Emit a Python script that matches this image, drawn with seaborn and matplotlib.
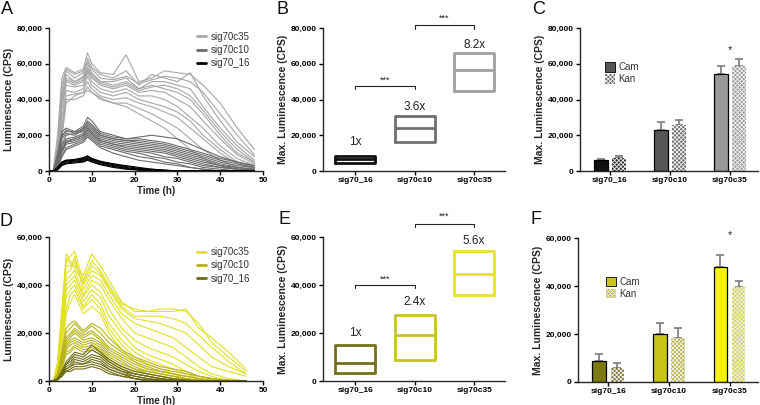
import pandas as pd
import matplotlib
matplotlib.use("Agg")
import matplotlib.pyplot as plt
from matplotlib.ticker import FuncFormatter
from matplotlib.patches import Patch
from matplotlib.lines import Line2D
import seaborn as sns

# ---------------- data (luminescence in thousands of CPS) ----------------
strains = ["sig70_16", "sig70c10", "sig70c35"]
drugs = ["Cam", "Kan"]

# panel A time courses
time_a = [0, 1, 2, 3, 4, 6, 8, 9, 10, 12, 15, 18, 21, 24, 27, 30, 33, 36, 40, 44, 48]
a_c35 = [
    [0, 0, 20, 52, 58, 55, 57, 66, 60, 55, 54, 65, 50, 52, 56, 55, 54, 48, 38, 24, 12],
    [0, 0, 15, 45, 56, 52, 55, 63, 58, 54, 52, 56, 48, 54, 52, 50, 55, 42, 28, 16, 8],
    [0, 0, 14, 48, 57, 54, 56, 61, 57, 52, 51, 53, 49, 51, 53, 52, 50, 44, 32, 20, 9],
    [0, 0, 10, 40, 54, 50, 53, 60, 55, 50, 50, 52, 46, 50, 50, 48, 46, 36, 24, 14, 6],
    [0, 0, 12, 42, 52, 50, 52, 58, 54, 50, 48, 50, 46, 48, 46, 44, 40, 32, 20, 10, 5],
    [0, 0, 9, 36, 51, 49, 51, 57, 53, 49, 47, 49, 45, 47, 48, 46, 42, 34, 22, 12, 5],
    [0, 0, 8, 38, 50, 48, 50, 56, 52, 48, 46, 48, 44, 45, 44, 40, 36, 28, 18, 9, 4],
    [0, 0, 10, 35, 48, 47, 48, 55, 50, 46, 44, 46, 42, 42, 40, 36, 30, 24, 14, 7, 3],
    [0, 0, 6, 30, 45, 44, 46, 53, 48, 44, 42, 44, 40, 38, 36, 33, 28, 20, 12, 5, 2],
    [0, 0, 5, 25, 42, 43, 44, 50, 46, 42, 40, 41, 38, 36, 33, 30, 24, 18, 10, 4, 1],
    [0, 0, 4, 22, 40, 40, 42, 47, 44, 40, 38, 38, 35, 32, 28, 24, 18, 12, 6, 2, 0],
    [0, 0, 3, 18, 38, 42, 44, 45, 44, 41, 38, 36, 32, 28, 24, 18, 12, 7, 3, 1, 0],
]
a_c10 = [
    [0, 0, 8, 20, 22, 22, 25, 30, 28, 22, 20, 18, 18, 17, 16, 14, 12, 10, 7, 5, 3],
    [0, 0, 6, 18, 21, 20, 23, 28, 26, 21, 19, 18, 19, 20, 19, 18, 15, 12, 8, 5, 3],
    [0, 0, 7, 19, 23, 21, 24, 27, 25, 20, 18, 17, 17, 16, 15, 13, 11, 9, 6, 4, 2],
    [0, 0, 5, 15, 20, 21, 22, 26, 24, 20, 18, 17, 16, 15, 14, 12, 10, 8, 5, 3, 2],
    [0, 0, 10, 22, 24, 22, 23, 25, 23, 19, 17, 16, 15, 14, 13, 11, 9, 7, 4, 2, 1],
    [0, 0, 4, 14, 18, 19, 21, 24, 22, 18, 16, 15, 14, 13, 12, 10, 8, 6, 3, 2, 1],
    [0, 0, 3, 11, 16, 18, 20, 24, 21, 17, 15, 14, 13, 12, 11, 9, 7, 5, 3, 1, 1],
    [0, 0, 4, 12, 17, 18, 20, 23, 21, 17, 15, 13, 12, 11, 10, 8, 6, 4, 2, 1, 0],
    [0, 0, 3, 12, 16, 17, 19, 22, 20, 16, 14, 12, 11, 10, 8, 7, 5, 3, 2, 1, 0],
    [0, 0, 3, 10, 15, 16, 18, 21, 19, 15, 13, 11, 10, 8, 7, 5, 4, 2, 1, 0, 0],
    [0, 0, 2, 8, 13, 15, 17, 20, 18, 14, 12, 10, 8, 7, 5, 4, 2, 1, 0, 0, 0],
    [0, 0, 2, 8, 12, 14, 16, 19, 17, 13, 10, 8, 6, 5, 4, 3, 2, 1, 0, 0, 0],
]
a_16 = [
    [0, 0, 2, 5, 6, 6, 7, 8, 7, 5, 4, 2.5, 1.5, 1, 0.5, 0, 0, 0, 0, 0, 0],
    [0, 0, 2, 5, 6, 6.5, 7.5, 8.5, 7, 5.5, 4, 3, 2, 1, 0.5, 0, 0, 0, 0, 0, 0],
    [0, 0, 1.5, 4.5, 5.5, 6, 6.5, 7.5, 6.5, 5, 3.5, 2, 1, 0.5, 0, 0, 0, 0, 0, 0, 0],
    [0, 0, 1, 4, 5, 5.5, 6, 7, 6, 4.5, 3, 1.5, 1, 0.5, 0, 0, 0, 0, 0, 0, 0],
    [0, 0, 1, 3.5, 4.5, 5, 5.5, 6.5, 5.5, 4, 2.5, 1.5, 0.5, 0, 0, 0, 0, 0, 0, 0, 0],
    [0, 0, 0.5, 3, 4, 4.5, 5, 6, 5, 3.5, 2, 1, 0.5, 0, 0, 0, 0, 0, 0, 0, 0],
]

# panel D time courses
time_d = [0, 1, 2, 3, 4, 5, 6, 8, 10, 12, 14, 17, 20, 23, 26, 29, 32, 35, 38, 42, 46]
d_c35 = [
    [0, 0, 8, 30, 50, 52, 54, 42, 50, 46, 40, 32, 30, 29, 29, 29, 30, 22, 18, 12, 5],
    [0, 0, 6, 28, 53, 50, 48, 44, 53, 48, 42, 33, 29, 29, 30, 30, 29, 24, 16, 10, 4],
    [0, 0, 7, 27, 51, 49, 47, 41, 48, 45, 39, 31, 27, 27, 27, 26, 24, 19, 14, 8, 3],
    [0, 0, 5, 25, 48, 48, 50, 40, 46, 44, 38, 30, 26, 25, 24, 22, 20, 15, 10, 6, 3],
    [0, 0, 5, 22, 45, 46, 52, 38, 44, 42, 36, 28, 24, 22, 20, 18, 14, 10, 6, 4, 2],
    [0, 0, 4, 20, 42, 44, 46, 36, 42, 40, 34, 26, 20, 18, 16, 14, 10, 6, 3, 1, 0],
    [0, 0, 4, 18, 40, 42, 44, 35, 40, 37, 30, 22, 17, 14, 12, 10, 7, 4, 2, 0, 0],
    [0, 0, 3, 16, 38, 40, 42, 33, 38, 35, 27, 20, 14, 11, 9, 7, 4, 2, 1, 0, 0],
    [0, 0, 3, 14, 35, 38, 40, 31, 36, 32, 24, 17, 12, 9, 7, 5, 3, 1, 0, 0, 0],
    [0, 0, 2, 12, 30, 36, 38, 30, 34, 30, 22, 15, 10, 7, 5, 3, 1, 0, 0, 0, 0],
    [0, 0, 2, 10, 28, 33, 36, 28, 31, 28, 20, 13, 8, 5, 3, 2, 1, 0, 0, 0, 0],
]
d_c10 = [
    [0, 0, 3, 12, 22, 24, 25, 21, 24, 22, 18, 13, 10, 8, 6, 5, 4, 2, 1, 0.5, 0],
    [0, 0, 3, 11, 20, 22, 24, 20, 23, 20, 16, 12, 9, 7, 5, 4, 3, 2, 1, 0, 0],
    [0, 0, 2, 10, 18, 20, 22, 19, 21, 18, 14, 11, 8, 6, 4, 3, 2, 1, 0.5, 0, 0],
    [0, 0, 2, 9, 17, 19, 21, 18, 20, 17, 13, 10, 7, 5, 4, 3, 2, 1, 0, 0, 0],
    [0, 0, 2, 8, 16, 18, 20, 17, 18, 16, 12, 9, 6, 4, 3, 2, 1, 0.5, 0, 0, 0],
    [0, 0, 2, 8, 15, 17, 18, 16, 17, 15, 11, 8, 5, 4, 3, 2, 1, 0, 0, 0, 0],
    [0, 0, 1, 7, 14, 16, 17, 15, 16, 14, 10, 7, 5, 3, 2, 1, 0.5, 0, 0, 0, 0],
    [0, 0, 1, 6, 13, 15, 16, 14, 15, 13, 9, 6, 4, 3, 2, 1, 0, 0, 0, 0, 0],
    [0, 0, 1, 5, 12, 13, 15, 13, 14, 12, 8, 5, 3, 2, 1, 0.5, 0, 0, 0, 0, 0],
    [0, 0, 1, 5, 11, 12, 14, 12, 13, 11, 8, 5, 3, 2, 1, 0, 0, 0, 0, 0, 0],
]
d_16 = [
    [0, 0, 1, 4, 8, 10, 12, 11, 15, 12, 9, 6, 4, 3, 2, 1, 0.5, 0, 0, 0, 0],
    [0, 0, 1, 4, 7, 9, 11, 10, 13, 11, 8, 5, 3, 2, 1, 0.5, 0, 0, 0, 0, 0],
    [0, 0, 1, 3, 7, 8, 10, 9, 11, 10, 7, 4, 3, 2, 1, 0, 0, 0, 0, 0, 0],
    [0, 0, 1, 3, 6, 7, 9, 8, 10, 9, 6, 4, 2, 1, 0.5, 0, 0, 0, 0, 0, 0],
    [0, 0, 0.5, 3, 5, 6, 8, 7, 9, 8, 5, 3, 2, 1, 0, 0, 0, 0, 0, 0, 0],
    [0, 0, 0.5, 2, 5, 6, 7, 7, 8, 7, 5, 3, 1, 0.5, 0, 0, 0, 0, 0, 0, 0],
    [0, 0, 0.5, 2, 4, 5, 6, 6, 7, 6, 4, 2, 1, 0, 0, 0, 0, 0, 0, 0, 0],
    [0, 0, 0.5, 2, 4, 4, 5, 5, 6, 5, 3, 2, 1, 0, 0, 0, 0, 0, 0, 0, 0],
]

# panels B / E: floating boxes (min, median, max of max. luminescence)
b_low = [4.7, 16.3, 45.0]
b_med = [6.7, 23.9, 56.6]
b_high = [8.6, 30.8, 66.0]
b_fold = ["1x", "3.6x", "8.2x"]
e_low = [3.5, 8.8, 36.0]
e_med = [7.7, 19.1, 44.6]
e_high = [15.0, 27.6, 54.1]
e_fold = ["1x", "2.4x", "5.6x"]

# panels C / F: mean and upper error
c_cam = [6.2, 23.0, 54.4]
c_cam_err = [0.5, 4.3, 4.3]
c_kan = [7.1, 25.6, 58.9]
c_kan_err = [1.5, 3.0, 3.7]
f_cam = [8.9, 19.8, 47.8]
f_cam_err = [2.8, 4.9, 5.2]
f_kan = [6.0, 18.5, 39.5]
f_kan_err = [2.1, 3.8, 2.5]

# ---------------- style ----------------
sns.set_style("ticks")
plt.rcParams["font.family"] = ["Liberation Sans", "DejaVu Sans"]
plt.rcParams["hatch.linewidth"] = 0.6
plt.rcParams["axes.linewidth"] = 1.0

gray_cols = {"sig70c35": "#a6a6a6", "sig70c10": "#6b6b6b", "sig70_16": "#000000"}
yel_cols = {"sig70c35": "#e2e024", "sig70c10": "#b8b418", "sig70_16": "#6e6b12"}
gray_box = {"sig70_16": "#111111", "sig70c10": "#707070", "sig70c35": "#a0a0a0"}
yel_box = {"sig70_16": "#74711a", "sig70c10": "#c6c22a", "sig70c35": "#e6e22c"}
gray_cam = ["#111111", "#565656", "#989898"]
gray_kan = ["#2e2e2e", "#6a6a6a", "#9c9c9c"]
yel_cam = ["#7c7913", "#c8c418", "#f7f300"]
yel_kan = ["#7a7636", "#b8b444", "#d4d050"]

W, H = 760, 405
fig = plt.figure(figsize=(W / 100, H / 100), dpi=100)


def add_ax(x0, x1, ytop, ybot):
    return fig.add_axes([x0 / W, 1 - ybot / H, (x1 - x0) / W, (ybot - ytop) / H])


ax_a = add_ax(49, 263, 28, 171)
ax_b = add_ax(323, 505, 28, 171)
ax_c = add_ax(580, 758, 28, 171)
ax_d = add_ax(49, 263, 237, 381)
ax_e = add_ax(323, 505, 237, 381)
ax_f = add_ax(578, 758, 238, 382)

fmt = FuncFormatter(lambda v, p: f"{v:,.0f}")


def style_axes(ax, ymax, ylabel):
    ax.set_ylim(0, ymax)
    ax.set_yticks(range(0, ymax + 1, 20000))
    ax.yaxis.set_major_formatter(fmt)
    for s in ["top", "right"]:
        ax.spines[s].set_visible(False)
    ax.tick_params(length=3, width=1, pad=1.5, colors="black", labelsize=6)
    for lab in ax.get_xticklabels() + ax.get_yticklabels():
        lab.set_fontweight("bold")
    ax.set_ylabel(ylabel, fontsize=7.5, fontweight="bold", labelpad=2)


def time_panel(ax, t, groups, cols, ymax, legend_top):
    rows = []
    for name, traces in groups:
        for i, tr in enumerate(traces):
            for tt, v in zip(t, tr):
                rows.append({"strain": name, "trace": f"{name}_{i}", "t": tt, "lum": v * 1000})
    df = pd.DataFrame(rows)
    sns.lineplot(data=df, x="t", y="lum", hue="strain", units="trace", estimator=None,
                 hue_order=["sig70c35", "sig70c10", "sig70_16"], palette=cols,
                 linewidth=0.8, legend=False, ax=ax)
    ax.set_xlim(0, 50)
    ax.set_xticks(range(0, 51, 10))
    ax.set_xlabel("Time (h)", fontsize=7, fontweight="bold", labelpad=1)
    style_axes(ax, ymax, "Luminescence (CPS)")
    handles = [Line2D([], [], color=cols[s], lw=2) for s in ["sig70c35", "sig70c10", "sig70_16"]]
    ax.legend(handles, ["sig70c35", "sig70c10", "sig70_16"], loc="upper left",
              bbox_to_anchor=(0.69, legend_top), frameon=False, fontsize=7,
              handlelength=1.0, handletextpad=0.45, labelspacing=0.35,
              borderpad=0, borderaxespad=0, labelcolor="#333333")


def box_panel(ax, low, med, high, cols, ymax, fold, fold_y, brackets):
    rows = []
    for s, lo, m, hi in zip(strains, low, med, high):
        for v in [lo, lo, m, hi, hi]:
            rows.append({"strain": s, "val": v * 1000})
    df = pd.DataFrame(rows)
    sns.boxplot(data=df, x="strain", y="val", hue="strain", order=strains, hue_order=strains,
                palette=cols, fill=False, whis=0, showcaps=False, width=0.67, linewidth=2,
                whiskerprops={"linewidth": 0}, legend=False, ax=ax)
    ax.set_xlim(-0.54, 2.52)
    ax.set_xlabel("")
    style_axes(ax, ymax, "Max. Luminescence (CPS)")
    for i, (lab, y) in enumerate(zip(fold, fold_y)):
        ax.text(i, y * 1000, lab, ha="center", va="center", fontsize=8.5, color="#222222")
    for (x0, x1, ytop, ybot, ytxt) in brackets:
        ax.plot([x0, x0, x1, x1], [ybot * 1000, ytop * 1000, ytop * 1000, ybot * 1000],
                color="#222222", lw=0.8, clip_on=False)
        ax.text((x0 + x1) / 2, ytxt * 1000, "***", ha="center", va="center",
                fontsize=6.5, color="#222222")


def bar_panel(ax, cam, cam_err, kan, kan_err, cam_cols, kan_cols, ymax, star_y, legend_top, legend_x):
    df = pd.DataFrame({
        "strain": strains * 2,
        "drug": ["Cam"] * 3 + ["Kan"] * 3,
        "val": [v * 1000 for v in cam + kan],
    })
    sns.barplot(data=df, x="strain", y="val", hue="drug", order=strains, hue_order=drugs,
                width=0.6, gap=0.25, errorbar=None, legend=False, ax=ax)
    errs = {"Cam": cam_err, "Kan": kan_err}
    for cont, drug in zip(ax.containers, drugs):
        for i, p in enumerate(cont.patches):
            xc = p.get_x() + p.get_width() / 2
            h = p.get_height()
            ax.errorbar(xc, h, yerr=[[0], [errs[drug][i] * 1000]], fmt="none",
                        ecolor="#7a7a7a", elinewidth=1.2, capsize=3, capthick=1.2, zorder=1)
            if drug == "Cam":
                p.set_facecolor(cam_cols[i])
                p.set_edgecolor("black")
                p.set_linewidth(0.9)
            else:
                p.set_facecolor(kan_cols[i])
                p.set_edgecolor("#f2f2f2")
                p.set_hatch("xxxxxxxx")
                p.set_linewidth(0)
            p.set_zorder(2)
    ax.set_xlim(-0.5, 2.47)
    ax.set_xlabel("")
    style_axes(ax, ymax, "Max. Luminescence (CPS)")
    ax.text(2, star_y * 1000, "*", ha="center", va="center", fontsize=8, color="#222222")
    handles = [Patch(facecolor=cam_cols[1], edgecolor="black", linewidth=0.6),
               Patch(facecolor=kan_cols[1], edgecolor="#f2f2f2", hatch="xxxxxxxx", linewidth=0)]
    ax.legend(handles, drugs, loc="upper left", bbox_to_anchor=(legend_x, legend_top),
              frameon=False, fontsize=7, handlelength=1.0, handleheight=1.1,
              handletextpad=0.4, labelspacing=0.2, borderpad=0, borderaxespad=0,
              labelcolor="#333333")


time_panel(ax_a, time_a, [("sig70c35", a_c35), ("sig70c10", a_c10), ("sig70_16", a_16)],
           gray_cols, 80000, 0.975)
time_panel(ax_d, time_d, [("sig70c35", d_c35), ("sig70c10", d_c10), ("sig70_16", d_16)],
           yel_cols, 60000, 0.93)

box_panel(ax_b, b_low, b_med, b_high, gray_box, 80000, b_fold, [16.4, 36.0, 70.7],
          [(0, 1, 47.7, 45.8, 51.0), (1, 2, 81.5, 79.4, 85.6)])
box_panel(ax_e, e_low, e_med, e_high, yel_box, 60000, e_fold, [19.9, 32.9, 58.5],
          [(0, 1, 40.1, 38.7, 42.6), (1, 2, 65.5, 64.1, 68.6)])

bar_panel(ax_c, c_cam, c_cam_err, c_kan, c_kan_err, gray_cam, gray_kan, 80000, 67.9, 0.76, 0.14)
bar_panel(ax_f, f_cam, f_cam_err, f_kan, f_kan_err, yel_cam, yel_kan, 60000, 61.4, 0.73, 0.155)

for lab, (x, y) in zip("ABCDEF", [(7, 9), (283, 9), (539, 9), (6, 222), (285, 220), (536, 220)]):
    fig.text(x / W, 1 - y / H, lab, ha="center", va="center", fontsize=13, color="#111111")

fig.savefig("out.png", dpi=100)
